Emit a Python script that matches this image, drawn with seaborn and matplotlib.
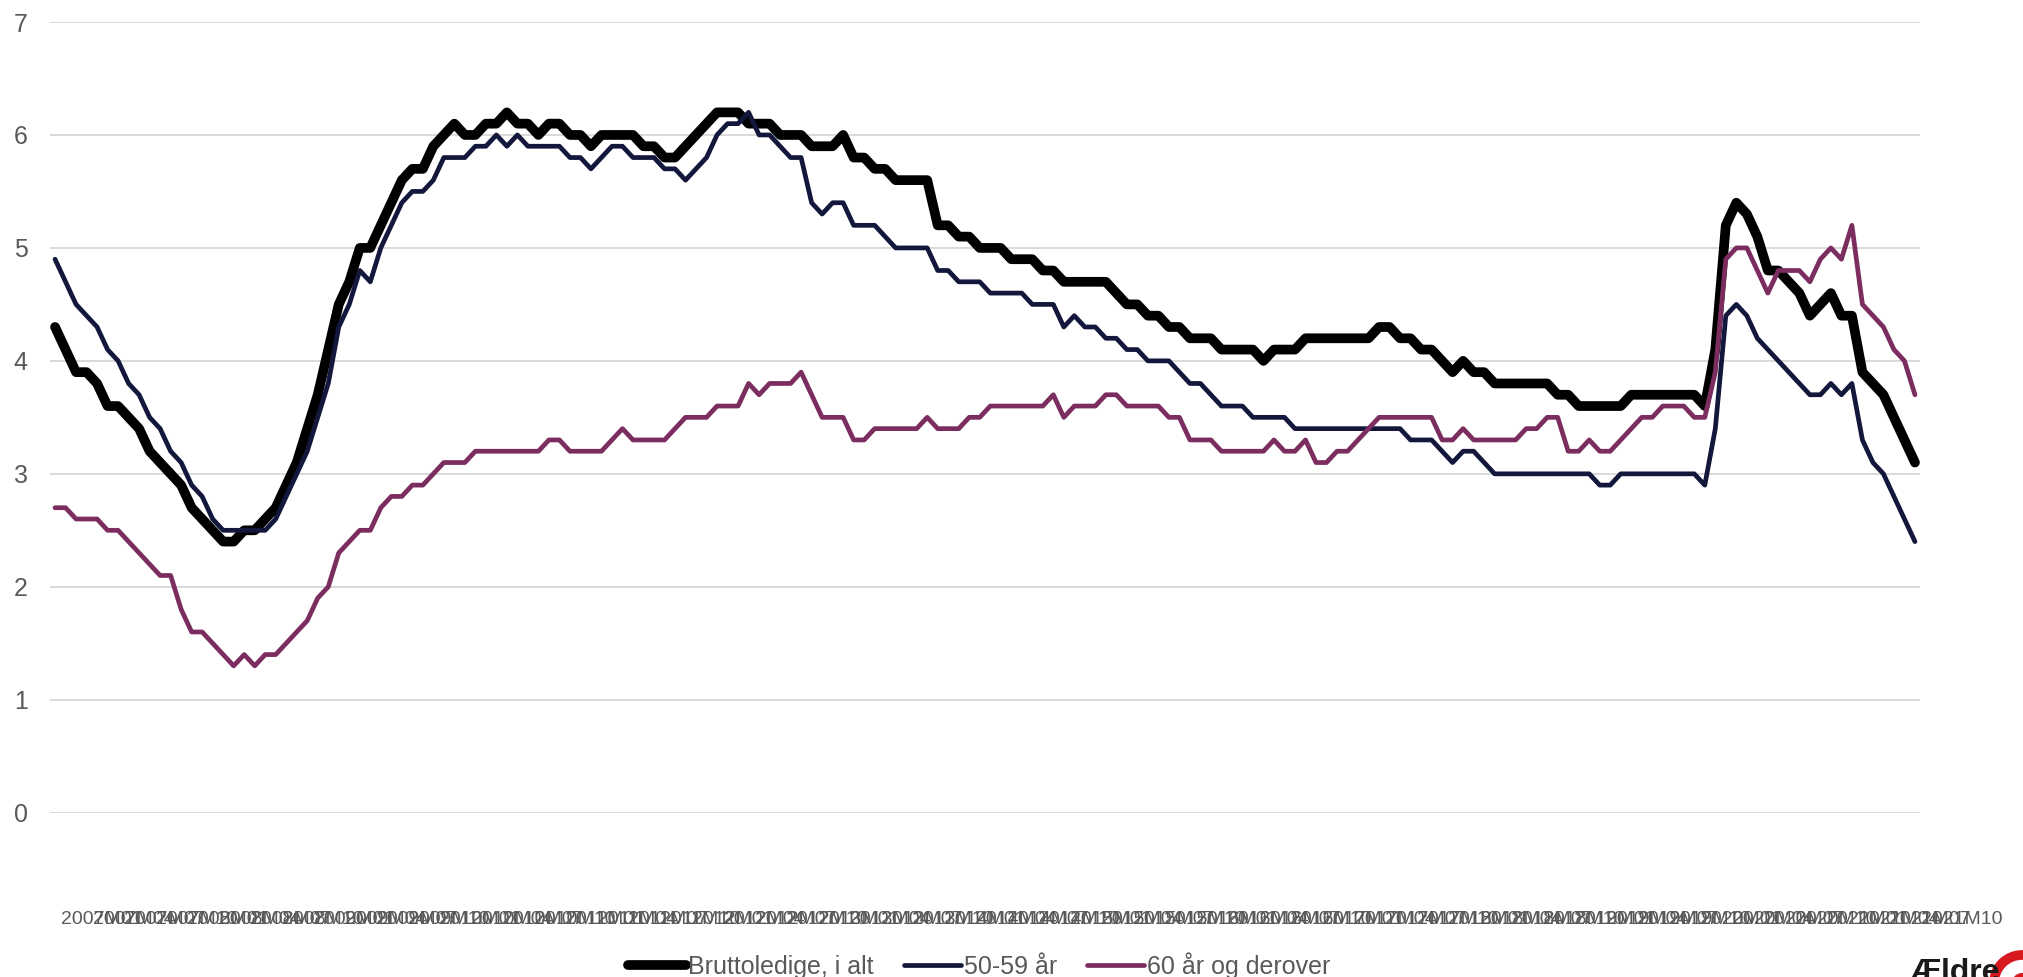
import matplotlib.pyplot as plt
import matplotlib.patches as mpatches
import matplotlib.transforms as mtransforms
import pandas as pd
import seaborn as sns

# monthly categories 2007M01 .. 2021M10
months = [f"{y}M{m:02d}" for y in range(2007, 2022) for m in range(1, 13)][:178]

bruttoledige = [
    4.3, 4.1, 3.9, 3.9, 3.8, 3.6, 3.6, 3.5, 3.4, 3.2, 3.1, 3.0, 2.9, 2.7, 2.6, 2.5, 2.4, 2.4, 2.5, 2.5,
    2.6, 2.7, 2.9, 3.1, 3.4,
    3.7, 4.1, 4.5, 4.7, 5.0, 5.0, 5.2, 5.4, 5.6, 5.7, 5.7, 5.9, 6.0, 6.1, 6.0, 6.0, 6.1, 6.1, 6.2, 6.1,
    6.1, 6.0, 6.1, 6.1, 6.0, 6.0,
    5.9, 6.0, 6.0, 6.0, 6.0, 5.9, 5.9, 5.8, 5.8, 5.9, 6.0, 6.1, 6.2, 6.2, 6.2, 6.1, 6.1, 6.1, 6.0, 6.0,
    6.0, 5.9, 5.9, 5.9, 6.0,
    5.8, 5.8, 5.7, 5.7, 5.6, 5.6, 5.6, 5.6, 5.2, 5.2, 5.1, 5.1, 5.0, 5.0, 5.0, 4.9, 4.9, 4.9, 4.8, 4.8,
    4.7, 4.7, 4.7, 4.7, 4.7,
    4.6, 4.5, 4.5, 4.4, 4.4, 4.3, 4.3, 4.2, 4.2, 4.2, 4.1, 4.1, 4.1, 4.1, 4.0, 4.1, 4.1, 4.1, 4.2, 4.2,
    4.2, 4.2, 4.2, 4.2, 4.2,
    4.3, 4.3, 4.2, 4.2, 4.1, 4.1, 4.0, 3.9, 4.0, 3.9, 3.9, 3.8, 3.8, 3.8, 3.8, 3.8, 3.8, 3.7, 3.7, 3.6,
    3.6, 3.6, 3.6, 3.6, 3.7,
    3.7, 3.7, 3.7, 3.7, 3.7, 3.7, 3.6, 4.1, 5.2, 5.4, 5.3, 5.1, 4.8, 4.8, 4.7, 4.6, 4.4, 4.5, 4.6, 4.4,
    4.4, 3.9, 3.8, 3.7, 3.5, 3.3, 3.1,
]

aar_50_59 = [
    4.9, 4.7, 4.5, 4.4, 4.3, 4.1, 4.0, 3.8, 3.7, 3.5, 3.4, 3.2, 3.1, 2.9, 2.8, 2.6, 2.5, 2.5, 2.5, 2.5,
    2.5, 2.6, 2.8, 3.0, 3.2,
    3.5, 3.8, 4.3, 4.5, 4.8, 4.7, 5.0, 5.2, 5.4, 5.5, 5.5, 5.6, 5.8, 5.8, 5.8, 5.9, 5.9, 6.0, 5.9, 6.0,
    5.9, 5.9, 5.9, 5.9, 5.8, 5.8,
    5.7, 5.8, 5.9, 5.9, 5.8, 5.8, 5.8, 5.7, 5.7, 5.6, 5.7, 5.8, 6.0, 6.1, 6.1, 6.2, 6.0, 6.0, 5.9, 5.8,
    5.8, 5.4, 5.3, 5.4, 5.4,
    5.2, 5.2, 5.2, 5.1, 5.0, 5.0, 5.0, 5.0, 4.8, 4.8, 4.7, 4.7, 4.7, 4.6, 4.6, 4.6, 4.6, 4.5, 4.5, 4.5,
    4.3, 4.4, 4.3, 4.3, 4.2,
    4.2, 4.1, 4.1, 4.0, 4.0, 4.0, 3.9, 3.8, 3.8, 3.7, 3.6, 3.6, 3.6, 3.5, 3.5, 3.5, 3.5, 3.4, 3.4, 3.4,
    3.4, 3.4, 3.4, 3.4, 3.4,
    3.4, 3.4, 3.4, 3.3, 3.3, 3.3, 3.2, 3.1, 3.2, 3.2, 3.1, 3.0, 3.0, 3.0, 3.0, 3.0, 3.0, 3.0, 3.0, 3.0,
    3.0, 2.9, 2.9, 3.0, 3.0,
    3.0, 3.0, 3.0, 3.0, 3.0, 3.0, 2.9, 3.4, 4.4, 4.5, 4.4, 4.2, 4.1, 4.0, 3.9, 3.8, 3.7, 3.7, 3.8, 3.7,
    3.8, 3.3, 3.1, 3.0, 2.8, 2.6, 2.4,
]

aar_60_plus = [
    2.7, 2.7, 2.6, 2.6, 2.6, 2.5, 2.5, 2.4, 2.3, 2.2, 2.1, 2.1, 1.8, 1.6, 1.6, 1.5, 1.4, 1.3, 1.4, 1.3,
    1.4, 1.4, 1.5, 1.6, 1.7,
    1.9, 2.0, 2.3, 2.4, 2.5, 2.5, 2.7, 2.8, 2.8, 2.9, 2.9, 3.0, 3.1, 3.1, 3.1, 3.2, 3.2, 3.2, 3.2, 3.2,
    3.2, 3.2, 3.3, 3.3, 3.2, 3.2,
    3.2, 3.2, 3.3, 3.4, 3.3, 3.3, 3.3, 3.3, 3.4, 3.5, 3.5, 3.5, 3.6, 3.6, 3.6, 3.8, 3.7, 3.8, 3.8, 3.8,
    3.9, 3.7, 3.5, 3.5, 3.5,
    3.3, 3.3, 3.4, 3.4, 3.4, 3.4, 3.4, 3.5, 3.4, 3.4, 3.4, 3.5, 3.5, 3.6, 3.6, 3.6, 3.6, 3.6, 3.6, 3.7,
    3.5, 3.6, 3.6, 3.6, 3.7,
    3.7, 3.6, 3.6, 3.6, 3.6, 3.5, 3.5, 3.3, 3.3, 3.3, 3.2, 3.2, 3.2, 3.2, 3.2, 3.3, 3.2, 3.2, 3.3, 3.1,
    3.1, 3.2, 3.2, 3.3, 3.4,
    3.5, 3.5, 3.5, 3.5, 3.5, 3.5, 3.3, 3.3, 3.4, 3.3, 3.3, 3.3, 3.3, 3.3, 3.4, 3.4, 3.5, 3.5, 3.2, 3.2,
    3.3, 3.2, 3.2, 3.3, 3.4,
    3.5, 3.5, 3.6, 3.6, 3.6, 3.5, 3.5, 3.9, 4.9, 5.0, 5.0, 4.8, 4.6, 4.8, 4.8, 4.8, 4.7, 4.9, 5.0, 4.9,
    5.2, 4.5, 4.4, 4.3, 4.1, 4.0, 3.7,
]

series_labels = ["Bruttoledige, i alt", "50-59 år", "60 år og derover"]
series_colors = ["#000000", "#12173B", "#7B2D5F"]
series_widths = [7.0, 3.4, 3.4]

df = pd.DataFrame({
    "month": months,
    "pos": range(len(months)),
    series_labels[0]: bruttoledige,
    series_labels[1]: aar_50_59,
    series_labels[2]: aar_60_plus,
})

sns.set_style("white")
plt.rcParams["font.family"] = ["Liberation Sans", "DejaVu Sans"]

W, H = 2023, 977
fig = plt.figure(figsize=(W / 100, H / 100), dpi=100)
ax = fig.add_axes([50 / W, 1 - 812.7 / H, 1870 / W, (812.7 - 22) / H])

for lab, col, lw in zip(series_labels, series_colors, series_widths):
    sns.lineplot(data=df, x="pos", y=lab, ax=ax, color=col, linewidth=lw,
                 label=lab, solid_joinstyle="round", solid_capstyle="round")

ax.set_ylim(0, 7)
ax.set_yticks(range(8))
ax.set_xlim(-0.48, len(months) - 1 + 0.48)
ax.grid(axis="y", color="#D9D9D9", linewidth=1.4)
ax.grid(axis="x", visible=False)
ax.set_axisbelow(True)
for s in ax.spines.values():
    s.set_visible(False)

ticks = list(range(0, len(months), 3))
ax.set_xticks(ticks)
ax.set_xticklabels([months[t] for t in ticks])
ax.tick_params(axis="x", length=0, pad=71, labelsize=14, labelcolor="#595959")
ax.tick_params(axis="y", length=0, pad=16, labelsize=18, labelcolor="#595959")
shift = mtransforms.ScaledTranslation(6 / 100, 0, fig.dpi_scale_trans)
for t in ax.get_xticklabels():
    t.set_horizontalalignment("left")
    t.set_transform(t.get_transform() + shift)
ax.set_xlabel("")
ax.set_ylabel("")

ax.get_legend().remove()
handles, labels = ax.get_legend_handles_labels()
leg = fig.legend(handles, labels, loc="center", bbox_to_anchor=(0.484, 0.012), ncol=3,
                 frameon=False, fontsize=18, handlelength=2.3, handletextpad=0.1,
                 columnspacing=1.2)
for t in leg.get_texts():
    t.set_color("#595959")

# partly visible logo in the bottom right corner
fig.text(1910 / W, 19 / H, "Ældre", va="top", ha="left", fontsize=23,
         fontweight="bold", color="#1a1a1a")
fig.add_artist(mpatches.Circle((2022, -6), 28, transform=None, facecolor="white",
                               edgecolor="#D71920", linewidth=7))
fig.add_artist(mpatches.Circle((2022, -6), 10, transform=None, facecolor="#D71920",
                               edgecolor="none"))

fig.savefig("out.png", dpi=100)
